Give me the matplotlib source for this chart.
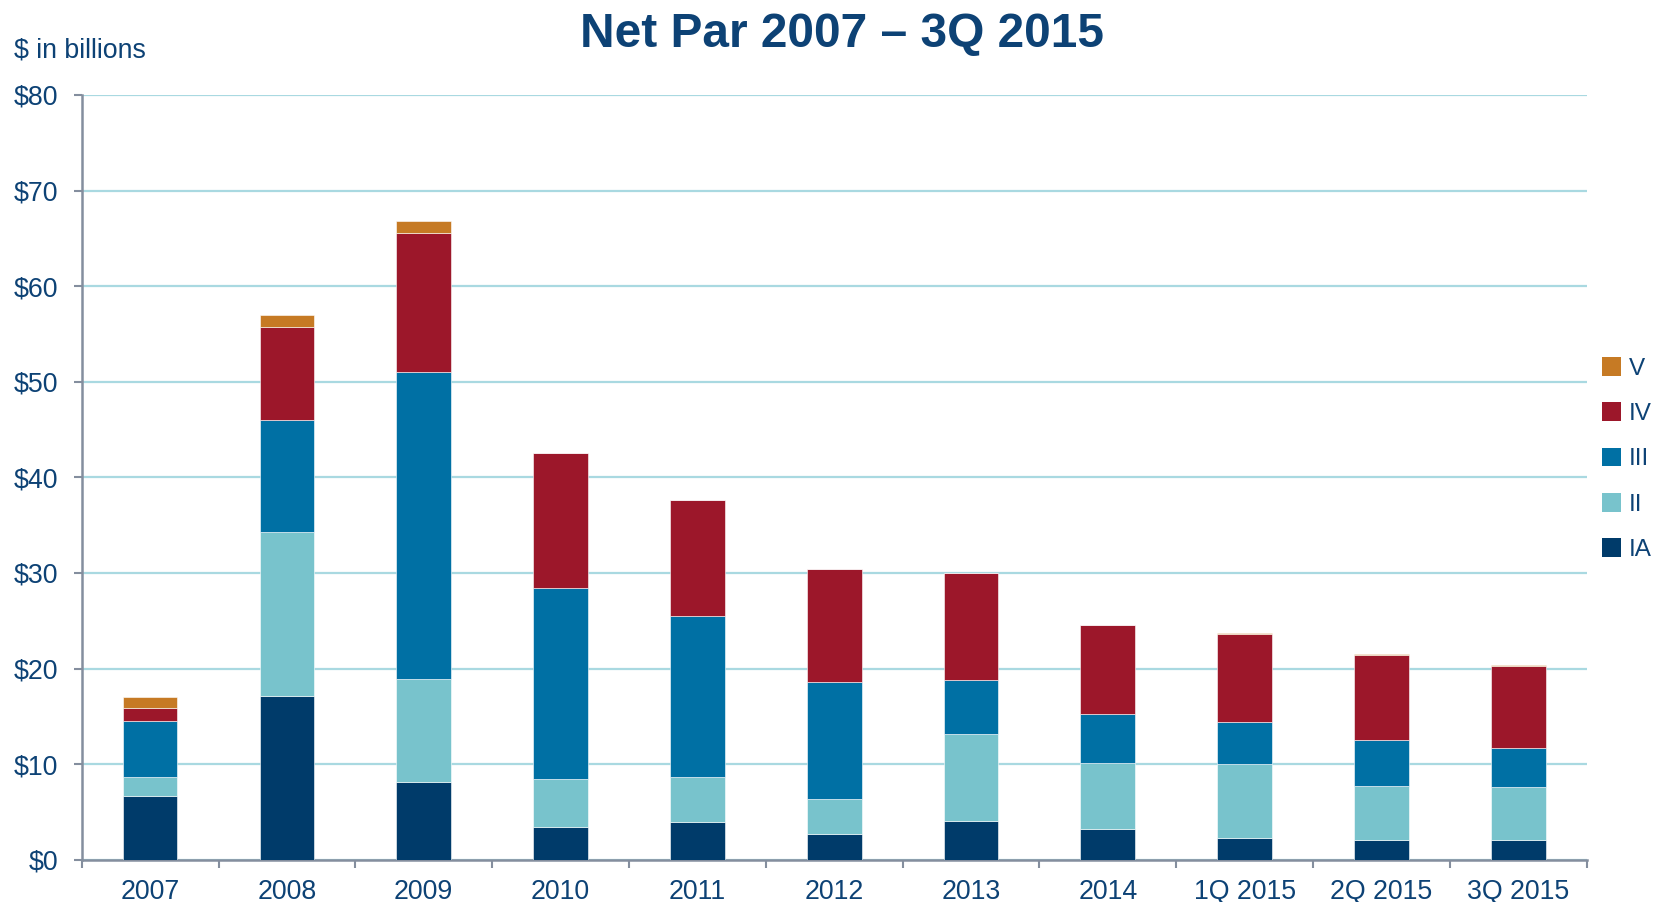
import matplotlib
matplotlib.use("Agg")
import matplotlib.pyplot as plt
import numpy as np
from matplotlib.patches import Patch

plt.rcParams['font.family'] = ['Liberation Sans', 'DejaVu Sans']

categories = ["2007", "2008", "2009", "2010", "2011", "2012", "2013", "2014",
              "1Q 2015", "2Q 2015", "3Q 2015"]
ia = [6.7, 17.1, 8.1, 3.4, 3.9, 2.65, 4.1, 3.2, 2.25, 2.1, 2.1]
ii = [2.0, 17.15, 10.85, 5.05, 4.8, 3.75, 9.1, 6.95, 7.8, 5.6, 5.55]
iii = [5.85, 11.7, 32.1, 19.95, 16.8, 12.15, 5.65, 5.1, 4.4, 4.8, 4.05]
iv = [1.3, 9.8, 14.5, 14.1, 12.1, 11.9, 11.1, 9.3, 9.15, 8.9, 8.55]
v = [1.2, 1.2, 1.25, 0.0, 0.0, 0.0, 0.0, 0.0, 0.1, 0.07, 0.07]
series_names = ["IA", "II", "III", "IV", "V"]
yticks = [0, 10, 20, 30, 40, 50, 60, 70, 80]

colors = {"IA": "#003B6A", "II": "#78C3CC", "III": "#0070A4",
          "IV": "#9C172A", "V": "#C67A24"}
text_color = "#0D4275"
spine_color = "#848E9E"
grid_color = "#A9D9E1"

fig = plt.figure(figsize=(16.55, 9.02), dpi=100)
ax = fig.add_axes([81.7 / 1655, 1 - 859.7 / 902, (1586.7 - 81.7) / 1655, (859.7 - 95) / 902])

x = np.arange(len(categories))
bottom = np.zeros(len(categories))
data = {"IA": ia, "II": ii, "III": iii, "IV": iv, "V": v}
for name in series_names:
    vals = np.array(data[name])
    ax.bar(x, vals, width=0.4, bottom=bottom, color=colors[name],
           edgecolor="white", linewidth=0.4, zorder=3, label=name)
    bottom += vals

ax.set_xlim(-0.5, len(categories) - 0.5)
ax.set_ylim(0, 80)
ax.set_yticks(yticks)
ax.set_yticklabels([f"${t}" for t in yticks])
ax.yaxis.grid(True, color=grid_color, linewidth=1.6, zorder=0)
ax.set_axisbelow(True)

ax.set_xticks(x)
ax.set_xticklabels(categories)
ax.set_xticks(np.arange(-0.5, len(categories)), minor=True)
ax.tick_params(axis="x", which="major", length=0, pad=14, labelsize=19.3, labelcolor=text_color)
ax.tick_params(axis="x", which="minor", length=6, width=1.5, color=spine_color, direction="out")
ax.tick_params(axis="y", which="major", length=6, width=1.5, color=spine_color, pad=11,
               labelsize=19.3, labelcolor=text_color)

for s in ["top", "right"]:
    ax.spines[s].set_visible(False)
for s in ["left", "bottom"]:
    ax.spines[s].set_color(spine_color)
    ax.spines[s].set_linewidth(1.8)

fig.text(0.509, 0.962, "Net Par 2007 \u2013 3Q 2015", ha="center", va="center",
         fontsize=34.5, fontweight="bold", color=text_color)
fig.text(14 / 1655, 1 - 50 / 902, "$ in billions", ha="left", va="center",
         fontsize=19.3, color=text_color)

handles = [Patch(facecolor=colors[n], edgecolor="none", label=n) for n in reversed(series_names)]
leg = fig.legend(handles=handles, loc="upper left", bbox_to_anchor=(1602 / 1655, 1 - 357 / 902),
                 frameon=False, fontsize=17.5, handlelength=0.8, handleheight=0.8,
                 handletextpad=0.3, labelspacing=0.93, borderaxespad=0, borderpad=0)
for t in leg.get_texts():
    t.set_color(text_color)

fig.savefig("out.png", dpi=100)
